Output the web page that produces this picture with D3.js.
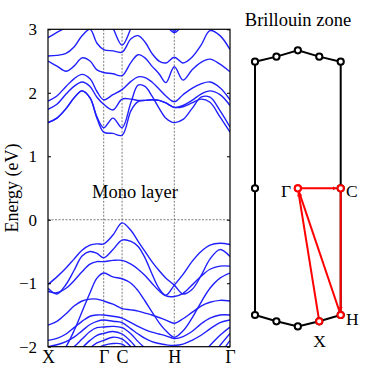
<!DOCTYPE html>
<html>
<head>
<meta charset="utf-8">
<script src="https://cdn.jsdelivr.net/npm/d3@7"></script>
<style>
body { margin: 0; background: #fff; }
svg { display: block; font-family: "Liberation Serif", "DejaVu Serif", serif; }
</style>
</head>
<body>
<svg id="s" width="374" height="374"></svg>
<script>
// k along the path X-Γ-C-H-Γ (fraction of path length)
var kpts = [0, 0.049, 0.099, 0.143, 0.187, 0.231, 0.269, 0.306, 0.357, 0.407, 0.456, 0.495,
            0.533, 0.571, 0.610, 0.648, 0.694, 0.742, 0.791, 0.841, 0.890, 0.945, 1.0];
var kTicks = [0, 0.306, 0.407, 0.694, 1.0];
var kNames = ["X", "Γ", "C", "H", "Γ"];
var eTicks = [-2, -1, 0, 1, 2, 3];

// conduction bands (eV)
var c0 = [1.53, 1.60, 1.75, 1.92, 2.03, 1.92, 1.60, 1.38, 1.36, 1.33, 1.72, 1.86, 1.88, 1.89, 1.88, 1.84, 1.77, 1.78, 1.84, 1.90, 1.85, 1.62, 1.38];
var c1 = [1.53, 1.60, 1.75, 1.92, 2.03, 1.92, 1.62, 1.45, 1.60, 1.45, 1.85, 2.12, 2.10, 1.95, 1.76, 1.60, 1.53, 1.58, 1.75, 1.93, 1.93, 1.72, 1.46];
var c2 = [1.74, 1.82, 1.98, 2.10, 2.17, 2.10, 1.93, 1.82, 1.73, 1.90, 1.90, 1.88, 1.88, 1.89, 1.88, 1.84, 1.77, 1.80, 1.88, 1.98, 2.03, 1.97, 1.80];
var c3 = [1.87, 1.95, 2.10, 2.22, 2.29, 2.22, 2.02, 1.89, 1.97, 2.05, 2.18, 2.25, 2.24, 2.17, 2.06, 1.95, 1.86, 1.97, 2.07, 2.14, 2.17, 2.08, 1.89];
var c4 = [2.50, 2.42, 2.34, 2.42, 2.55, 2.50, 2.36, 2.32, 2.30, 2.27, 2.48, 2.60, 2.55, 2.42, 2.30, 2.16, 2.41, 2.20, 2.36, 2.48, 2.53, 2.45, 2.33];
var c5 = [2.58, 2.59, 2.62, 2.72, 2.90, 3.00, 2.78, 2.68, 2.66, 2.64, 2.85, 2.90, 2.80, 2.62, 2.50, 2.47, 2.56, 2.47, 2.56, 2.75, 2.98, 2.90, 2.68];
var c6 = [2.87, 2.95, 3.03, 3.12, 3.20, 3.30, 3.40, 3.40, 3.40, 3.40, 3.40, 3.40, 3.40, 3.40, 3.40, 3.40, 3.40, 3.40, 3.40, 3.40, 3.40, 3.40, 3.40];
var c7 = [3.40, 3.40, 3.40, 3.40, 3.40, 3.40, 3.40, 3.30, 3.02, 2.75, 3.02, 3.30, 3.40, 3.40, 3.40, 3.20, 2.97, 3.20, 3.40, 3.40, 3.40, 3.40, 3.40];
var c8 = [3.40, 3.40, 3.40, 3.40, 3.40, 3.40, 3.40, 3.40, 3.40, 3.40, 3.40, 3.40, 3.40, 3.40, 3.40, 3.08, 2.95, 3.08, 3.40, 3.40, 3.40, 3.40, 3.40];

// valence bands (eV)
var v1 = [-1.02, -0.90, -0.76, -0.62, -0.48, -0.40, -0.38, -0.38, -0.24, -0.05, -0.17, -0.34, -0.50, -0.66, -0.80, -0.92, -1.03, -1.17, -1.10, -0.88, -0.62, -0.47, -0.58];
var v2 = [-1.08, -1.17, -1.02, -0.80, -0.57, -0.50, -0.53, -0.60, -0.47, -0.32, -0.34, -0.42, -0.60, -0.85, -1.08, -1.19, -1.03, -0.86, -0.66, -0.50, -0.40, -0.37, -0.39];
var v3 = [-1.13, -1.15, -1.08, -0.96, -0.82, -0.70, -0.66, -0.66, -0.64, -0.64, -0.70, -0.78, -0.88, -1.00, -1.12, -1.20, -1.21, -1.16, -1.03, -0.89, -0.78, -0.73, -0.73];
var v4 = [-2.30, -2.20, -2.00, -1.75, -1.45, -1.15, -0.92, -0.84, -0.90, -0.93, -1.00, -1.12, -1.28, -1.45, -1.62, -1.75, -1.85, -1.75, -1.55, -1.30, -1.08, -0.92, -0.84];
var v5 = [-1.66, -1.60, -1.48, -1.36, -1.28, -1.25, -1.25, -1.28, -1.33, -1.40, -1.42, -1.44, -1.47, -1.50, -1.54, -1.58, -1.63, -1.56, -1.46, -1.36, -1.30, -1.27, -1.28];
var v6 = [-1.90, -1.87, -1.80, -1.70, -1.60, -1.52, -1.50, -1.50, -1.52, -1.55, -1.62, -1.68, -1.73, -1.77, -1.80, -1.83, -1.87, -1.84, -1.76, -1.64, -1.55, -1.50, -1.50];
var v7 = [-2.00, -1.97, -1.92, -1.85, -1.75, -1.65, -1.60, -1.58, -1.60, -1.62, -1.72, -1.80, -1.87, -1.92, -1.95, -1.97, -1.98, -1.96, -1.90, -1.82, -1.72, -1.62, -1.58];
var v8 = [-2.20, -2.15, -2.10, -2.00, -1.88, -1.76, -1.70, -1.69, -1.68, -1.70, -1.80, -1.92, -2.02, -2.10, -2.15, -2.20, -2.20, -2.20, -2.18, -2.12, -1.98, -1.82, -1.69];
var v9 = [-2.35, -2.30, -2.25, -2.15, -2.02, -1.90, -1.82, -1.79, -1.76, -1.80, -1.92, -2.05, -2.15, -2.20, -2.30, -2.30, -2.30, -2.30, -2.30, -2.28, -2.18, -1.98, -1.79];
var v10 = [-2.50, -2.45, -2.40, -2.30, -2.15, -2.02, -1.94, -1.90, -1.85, -1.88, -2.00, -2.12, -2.25, -2.30, -2.40, -2.40, -2.40, -2.40, -2.40, -2.40, -2.32, -2.12, -1.90];
var v11 = [-2.60, -2.55, -2.50, -2.40, -2.28, -2.12, -2.03, -1.98, -1.95, -1.96, -2.08, -2.20, -2.30, -2.40, -2.50, -2.50, -2.50, -2.50, -2.50, -2.50, -2.45, -2.25, -1.98];

var bands = [c0, c1, c2, c3, c4, c5, c6, c7, c8, v1, v2, v3, v4, v5, v6, v7, v8, v9, v10, v11];

// Brillouin zone outline and the k path, in units of the zone half width / half height
var bzU = [-1, -0.5, 0, 0.5, 1, 1, 1, 0.5, 0, -0.5, -1, -1];
var bzV = [1, 1.04, 1.09, 1.04, 1, 0, -1, -1.05, -1.09, -1.05, -1, 0];
var pathU = [0.5, 0, 1, 1, 0];
var pathV = [-1.05, 0, 0, -1, 0];
var pathNames = ["X", "Γ", "C", "H", "Γ"];

var svg = d3.select("#s");
var pl = 48, pr = 230, pt = 29.3, pb = 346.7;

var x = d3.scaleLinear().domain([0, 1]).range([pl, pr]);
var y = d3.scaleLinear().domain([-2, 3]).range([pb, pt]);

svg.append("clipPath").attr("id", "clip")
  .append("rect").attr("x", pl).attr("y", pt).attr("width", pr - pl).attr("height", pb - pt);

// dotted guides
svg.selectAll("line.vk").data(kTicks.slice(1, 4)).enter().append("line")
  .attr("x1", function(d) { return x(d); }).attr("x2", function(d) { return x(d); })
  .attr("y1", pt).attr("y2", pb)
  .attr("stroke", "#444").attr("stroke-width", 0.7).attr("stroke-dasharray", "2,1.5");
svg.append("line").attr("x1", pl).attr("x2", pr).attr("y1", y(0)).attr("y2", y(0))
  .attr("stroke", "#444").attr("stroke-width", 0.7).attr("stroke-dasharray", "2,1.5");

var line = d3.line()
  .x(function(d, i) { return x(kpts[i]); })
  .y(function(d) { return y(d); })
  .curve(d3.curveCatmullRom.alpha(0.5));

svg.append("g").attr("clip-path", "url(#clip)")
  .selectAll("path").data(bands).enter().append("path")
  .attr("d", line)
  .attr("fill", "none").attr("stroke", "#2020ff").attr("stroke-width", 1.4);

// axes
var yl = svg.append("g").attr("transform", "translate(" + pl + ",0)")
  .call(d3.axisLeft(y).tickValues(eTicks).tickSize(-3).tickPadding(11).tickFormat(d3.format("d")));
var yr = svg.append("g").attr("transform", "translate(" + pr + ",0)")
  .call(d3.axisRight(y).tickValues(eTicks).tickSize(-3).tickFormat(""));
var xb = svg.append("g").attr("transform", "translate(0," + pb + ")")
  .call(d3.axisBottom(x).tickValues(kTicks).tickSize(0).tickPadding(3.5)
    .tickFormat(function(d, i) { return kNames[i]; }));
[yl, yr, xb].forEach(function(g) {
  g.select(".domain").remove();
  g.selectAll("text").attr("font-family", "Liberation Serif, serif").attr("font-size", 18).attr("fill", "#000");
  g.selectAll("line").attr("stroke", "#000");
});
yl.selectAll("text").attr("font-size", 17);

svg.append("rect").attr("x", pl).attr("y", pt).attr("width", pr - pl).attr("height", pb - pt)
  .attr("fill", "none").attr("stroke", "#000").attr("stroke-width", 1.2);

svg.append("text").attr("transform", "translate(18,188) rotate(-90)")
  .attr("text-anchor", "middle").attr("font-size", 18).text("Energy (eV)");
svg.append("text").attr("x", 135).attr("y", 198).attr("text-anchor", "middle")
  .attr("font-size", 18.5).text("Mono layer");

// Brillouin zone panel
var bx = d3.scaleLinear().domain([-1, 1]).range([255, 340.7]);
var by = d3.scaleLinear().domain([-1, 1]).range([315, 61.7]);

svg.append("text").attr("x", 298).attr("y", 25.5).attr("text-anchor", "middle")
  .attr("font-size", 18.5).text("Brillouin zone");

var bz = bzU.map(function(u, i) { return [u, bzV[i]]; });
svg.append("path")
  .attr("d", d3.line().x(function(d) { return bx(d[0]); }).y(function(d) { return by(d[1]); })(bz) + "Z")
  .attr("fill", "none").attr("stroke", "#000").attr("stroke-width", 2);

var defs = svg.append("defs");
defs.append("marker").attr("id", "arr").attr("viewBox", "0 0 10 10")
  .attr("refX", 10).attr("refY", 5).attr("markerWidth", 4).attr("markerHeight", 4)
  .attr("orient", "auto").attr("markerUnits", "userSpaceOnUse")
  .append("path").attr("d", "M0,0L10,5L0,10Z").attr("fill", "#ff0000");

var segs = d3.range(pathU.length - 1).map(function(i) {
  return [bx(pathU[i]), by(pathV[i]), bx(pathU[i + 1]), by(pathV[i + 1])];
});
svg.selectAll("line.seg").data(segs).enter().append("line")
  .attr("x1", function(d) { return d[0]; }).attr("y1", function(d) { return d[1]; })
  .attr("x2", function(d) {
    var dx = d[2] - d[0], dy = d[3] - d[1], l = Math.sqrt(dx * dx + dy * dy);
    return d[2] - dx / l * 4;
  })
  .attr("y2", function(d) {
    var dx = d[2] - d[0], dy = d[3] - d[1], l = Math.sqrt(dx * dx + dy * dy);
    return d[3] - dy / l * 4;
  })
  .attr("stroke", "#ff0000").attr("stroke-width", 2).attr("marker-end", "url(#arr)");

svg.selectAll("circle.bz").data(bz).enter().append("circle")
  .attr("cx", function(d) { return bx(d[0]); }).attr("cy", function(d) { return by(d[1]); })
  .attr("r", 3.1).attr("fill", "#fff").attr("stroke", "#000").attr("stroke-width", 2);
svg.selectAll("circle.kp").data(pathU).enter().append("circle")
  .attr("cx", function(d) { return bx(d); }).attr("cy", function(d, i) { return by(pathV[i]); })
  .attr("r", 3.1).attr("fill", "#fff").attr("stroke", "#ff0000").attr("stroke-width", 2);

var labelPos = [[319.5, 346.5, "middle"], [291, 196.5, "end"], [346, 196.5, "start"], [346, 325, "start"]];
svg.selectAll("text.kp").data(labelPos).enter().append("text")
  .attr("x", function(d) { return d[0]; }).attr("y", function(d) { return d[1]; })
  .attr("text-anchor", function(d) { return d[2]; })
  .attr("font-size", 17.5)
  .text(function(d, i) { return pathNames[i]; });
</script>
</body>
</html>
